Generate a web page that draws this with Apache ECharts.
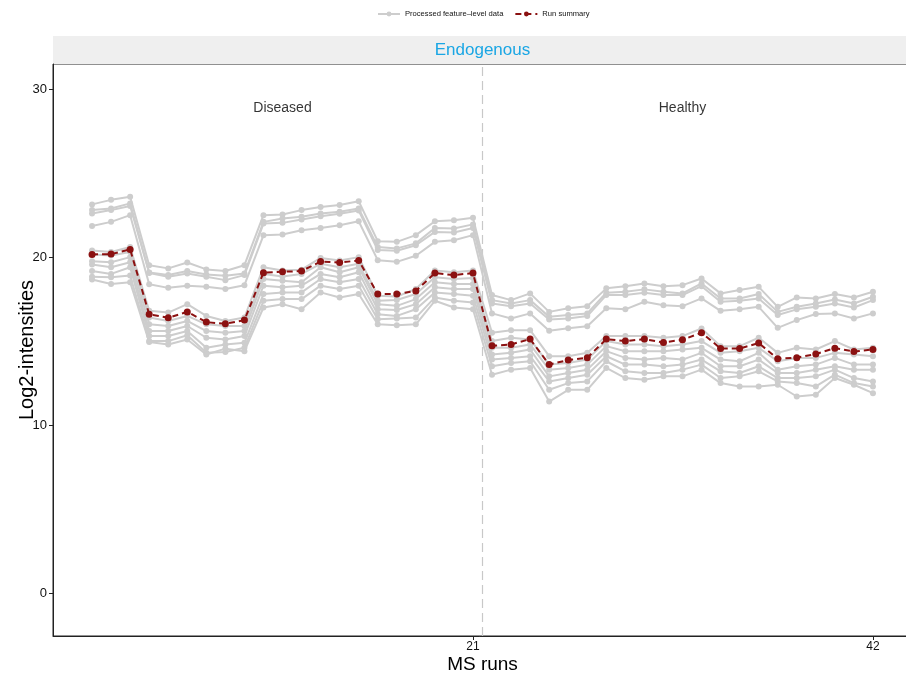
<!DOCTYPE html>
<html>
<head>
<meta charset="utf-8">
<script src="https://cdn.jsdelivr.net/npm/echarts@6/dist/echarts.min.js"></script>
<style>
  html, body { margin: 0; padding: 0; background: #fff; }
  #chart { width: 906px; height: 674px; }
</style>
</head>
<body>
<div id="chart"></div>
<script>
// MS run indices
const runs = Array.from({ length: 42 }, (_, i) => i + 1);
const xTickValues = [21, 42];
const yTickValues = [0, 10, 20, 30];
const conditionLabels = ['Diseased', 'Healthy'];
const conditionLabelRuns = [11, 32];
const conditionLabelY = 28.9;
const groupBoundary = 21.5;
const proteinName = 'Endogenous';

// Run-level summary (log2 intensity)
const runSummary = [20.16, 20.18, 20.46, 16.6, 16.39, 16.74, 16.13, 16.03, 16.25, 19.07, 19.13, 19.17, 19.74, 19.68, 19.8, 17.8, 17.8, 17.99, 19.05, 18.93, 19.05,
  14.72, 14.8, 15.12, 13.61, 13.87, 14.01, 15.12, 15.0, 15.12, 14.92, 15.08, 15.5, 14.56, 14.56, 14.88, 13.95, 14.01, 14.23, 14.58, 14.38, 14.5];

// Processed feature-level intensities
const feature1 = [23.14, 23.41, 23.59, 19.52, 19.33, 19.68, 19.27, 19.17, 19.52, 22.5, 22.54, 22.8, 22.98, 23.1, 23.33, 20.95, 20.91, 21.31, 22.14, 22.2, 22.34,
  17.74, 17.44, 17.84, 16.74, 16.95, 17.08, 18.14, 18.27, 18.43, 18.27, 18.33, 18.73, 17.84, 18.04, 18.23, 17.04, 17.6, 17.54, 17.8, 17.6, 17.94];
const feature2 = [22.8, 22.9, 23.2, 19.09, 18.93, 19.17, 18.97, 18.89, 19.03, 22.1, 22.3, 22.4, 22.6, 22.7, 22.9, 20.61, 20.52, 20.82, 21.74, 21.71, 21.95,
  17.44, 17.24, 17.44, 16.45, 16.55, 16.65, 17.88, 17.94, 18.08, 17.94, 17.84, 18.43, 17.54, 17.54, 17.8, 16.74, 17.04, 17.24, 17.48, 17.24, 17.64];
const feature3 = [22.6, 22.8, 23.05, 19.05, 18.83, 19.03, 18.83, 18.63, 18.93, 22.0, 22.04, 22.24, 22.44, 22.58, 22.78, 20.42, 20.38, 20.71, 21.5, 21.47, 21.74,
  17.24, 17.08, 17.24, 16.29, 16.35, 16.49, 17.74, 17.74, 17.88, 17.74, 17.74, 18.27, 17.34, 17.4, 17.54, 16.55, 16.89, 17.04, 17.24, 17.0, 17.44];
const feature4 = [21.85, 22.1, 22.5, 18.38, 18.17, 18.29, 18.23, 18.1, 18.33, 21.3, 21.35, 21.6, 21.74, 21.9, 22.14, 19.82, 19.72, 20.08, 20.91, 21.01, 21.31,
  16.65, 16.35, 16.65, 15.61, 15.76, 15.89, 16.95, 16.89, 17.34, 17.14, 17.08, 17.54, 16.8, 16.89, 17.04, 15.79, 16.25, 16.61, 16.65, 16.35, 16.65];
const feature5 = [20.4, 20.3, 20.6, 16.8, 16.7, 17.2, 16.5, 16.2, 16.4, 19.4, 19.2, 19.25, 19.95, 19.8, 20.0, 17.7, 17.65, 18.1, 19.2, 19.1, 19.2,
  15.5, 15.65, 15.65, 14.1, 14.1, 14.3, 15.3, 15.3, 15.3, 15.2, 15.3, 15.75, 14.7, 14.7, 15.2, 14.3, 14.6, 14.5, 15.0, 14.5, 14.6];
const feature6 = [20.15, 20.1, 20.3, 16.4, 16.2, 16.5, 16.0, 15.9, 15.9, 19.0, 18.85, 19.0, 19.6, 19.4, 19.6, 17.4, 17.45, 17.8, 18.8, 18.7, 18.75,
  15.0, 15.2, 15.1, 13.6, 13.7, 13.9, 15.0, 14.8, 14.8, 14.7, 14.8, 15.0, 14.3, 14.4, 14.6, 13.8, 14.0, 14.0, 14.3, 14.2, 14.1];
const feature7 = [19.76, 19.7, 20.0, 16.0, 15.9, 16.2, 15.6, 15.5, 15.6, 18.7, 18.6, 18.5, 19.4, 19.1, 19.4, 17.2, 17.1, 17.5, 18.5, 18.4, 18.4,
  14.6, 14.6, 14.8, 13.3, 13.4, 13.6, 14.7, 14.4, 14.4, 14.4, 14.5, 14.6, 13.9, 13.8, 14.3, 13.3, 13.5, 13.6, 14.0, 13.6, 13.6];
const feature8 = [19.56, 19.4, 19.7, 15.6, 15.6, 15.9, 15.2, 15.1, 15.3, 18.3, 18.2, 18.3, 19.0, 18.8, 19.1, 16.9, 16.85, 17.2, 18.2, 18.1, 18.1,
  14.2, 14.3, 14.5, 12.9, 13.1, 13.3, 14.4, 14.0, 13.9, 14.0, 13.9, 14.3, 13.5, 13.5, 13.9, 13.1, 13.1, 13.3, 13.5, 13.3, 13.3];
const feature9 = [19.17, 19.0, 19.4, 15.3, 15.3, 15.6, 14.6, 14.8, 14.9, 17.8, 17.9, 17.9, 18.7, 18.5, 18.7, 16.6, 16.5, 16.9, 17.9, 17.8, 17.7,
  13.9, 14.0, 14.1, 12.6, 12.8, 13.0, 14.1, 13.6, 13.6, 13.5, 13.6, 13.9, 13.2, 13.1, 13.5, 12.8, 12.8, 12.9, 13.3, 12.8, 12.6];
const feature10 = [18.83, 18.8, 18.9, 15.0, 15.0, 15.35, 14.3, 14.35, 14.6, 17.4, 17.5, 17.5, 18.3, 18.1, 18.3, 16.3, 16.35, 16.4, 17.6, 17.4, 17.3,
  13.5, 13.7, 13.8, 12.1, 12.5, 12.6, 13.8, 13.2, 13.1, 13.1, 13.3, 13.6, 12.8, 12.9, 13.2, 12.6, 12.5, 12.3, 13.0, 12.5, 12.3];
const feature11 = [18.67, 18.4, 18.5, 14.95, 14.8, 15.1, 14.2, 14.55, 14.4, 17.0, 17.2, 16.9, 17.9, 17.6, 17.8, 16.0, 15.95, 16.0, 17.4, 17.0, 16.9,
  13.0, 13.3, 13.4, 11.4, 12.1, 12.1, 13.4, 12.8, 12.7, 12.9, 12.9, 13.3, 12.5, 12.3, 12.3, 12.4, 11.7, 11.8, 12.8, 12.4, 11.9];

const features = [feature1, feature2, feature3, feature4, feature5, feature6,
  feature7, feature8, feature9, feature10, feature11];

const FEATURE_NAME = 'Processed feature\u2013level data';
const SUMMARY_NAME = 'Run summary';
const FONT = '"Liberation Sans", Arial, Helvetica, sans-serif';
const GRAY = '#cdcdcd';
const RED = '#8b1111';

const pair = (vals) => runs.map((r, i) => [r, vals[i]]);

const featureSeries = features.map((vals) => ({
  name: FEATURE_NAME,
  type: 'line',
  data: pair(vals),
  symbol: 'circle',
  symbolSize: 6,
  itemStyle: { color: GRAY },
  lineStyle: { color: GRAY, width: 2 },
  emphasis: { disabled: true },
  z: 2
}));

const chart = echarts.init(document.getElementById('chart'), null, { renderer: 'canvas' });

chart.setOption({
  animation: false,
  backgroundColor: '#ffffff',
  textStyle: { fontFamily: FONT },
  legend: {
    data: [FEATURE_NAME, SUMMARY_NAME],
    left: 372,
    top: 5,
    itemWidth: 22,
    itemHeight: 6,
    itemGap: 11,
    textStyle: { fontSize: 7.6, color: '#111', fontFamily: FONT }
  },
  grid: {
    left: 53,
    right: -6,
    top: 64,
    bottom: 38,
    show: true,
    borderColor: '#222',
    borderWidth: 1,
    containLabel: false,
    outerBoundsMode: 'none'
  },
  graphic: [
    {
      type: 'rect',
      left: 53,
      top: 36,
      shape: { width: 860, height: 28 },
      style: { fill: '#efefef' },
      z: 0
    },
    {
      type: 'text',
      x: 482.5,
      y: 50,
      style: {
        text: proteinName,
        fill: '#1aa6e4',
        font: '17px ' + FONT,
        align: 'center',
        verticalAlign: 'middle'
      },
      z: 5
    }
  ],
  xAxis: {
    type: 'value',
    min: -1.05,
    max: 44.05,
    name: 'MS runs',
    nameLocation: 'middle',
    nameGap: 19,
    nameMoveOverlap: false,
    nameTextStyle: { fontSize: 19, color: '#000', fontFamily: FONT },
    axisLine: { show: true, onZero: false, lineStyle: { color: '#222', width: 1 } },
    axisTick: { show: true, customValues: xTickValues, length: 4, lineStyle: { color: '#222' } },
    axisLabel: { customValues: xTickValues, fontSize: 12, color: '#111', margin: 5 },
    splitLine: { show: false }
  },
  yAxis: {
    type: 'value',
    min: -2.56,
    max: 31.5,
    name: 'Log2-intensities',
    nameLocation: 'middle',
    nameGap: 16,
    nameMoveOverlap: false,
    nameRotate: 90,
    nameTextStyle: { fontSize: 20, color: '#000', fontFamily: FONT },
    axisLine: { show: true, onZero: false, lineStyle: { color: '#222', width: 1 } },
    axisTick: { show: true, customValues: yTickValues, length: 4, lineStyle: { color: '#222' } },
    axisLabel: { customValues: yTickValues, fontSize: 13, color: '#111', margin: 6 },
    splitLine: { show: false }
  },
  series: [
    ...featureSeries,
    {
      name: SUMMARY_NAME,
      type: 'line',
      data: pair(runSummary),
      symbol: 'circle',
      symbolSize: 7,
      itemStyle: { color: RED },
      lineStyle: { color: RED, width: 2, type: [6, 4] },
      emphasis: { disabled: true },
      z: 4,
      markLine: {
        silent: true,
        symbol: 'none',
        label: { show: false },
        lineStyle: { color: '#c8c8c8', width: 1.2, type: [9, 5] },
        data: [{ xAxis: groupBoundary }],
        z: 1
      }
    },
    {
      name: 'conditions',
      type: 'scatter',
      data: conditionLabels.map((t, i) => [conditionLabelRuns[i], conditionLabelY, t]),
      symbolSize: 0,
      silent: true,
      label: {
        show: true,
        position: 'inside',
        formatter: (p) => p.data[2],
        fontSize: 14,
        color: '#000',
        fontFamily: FONT
      },
      z: 5
    }
  ]
});
</script>
</body>
</html>
